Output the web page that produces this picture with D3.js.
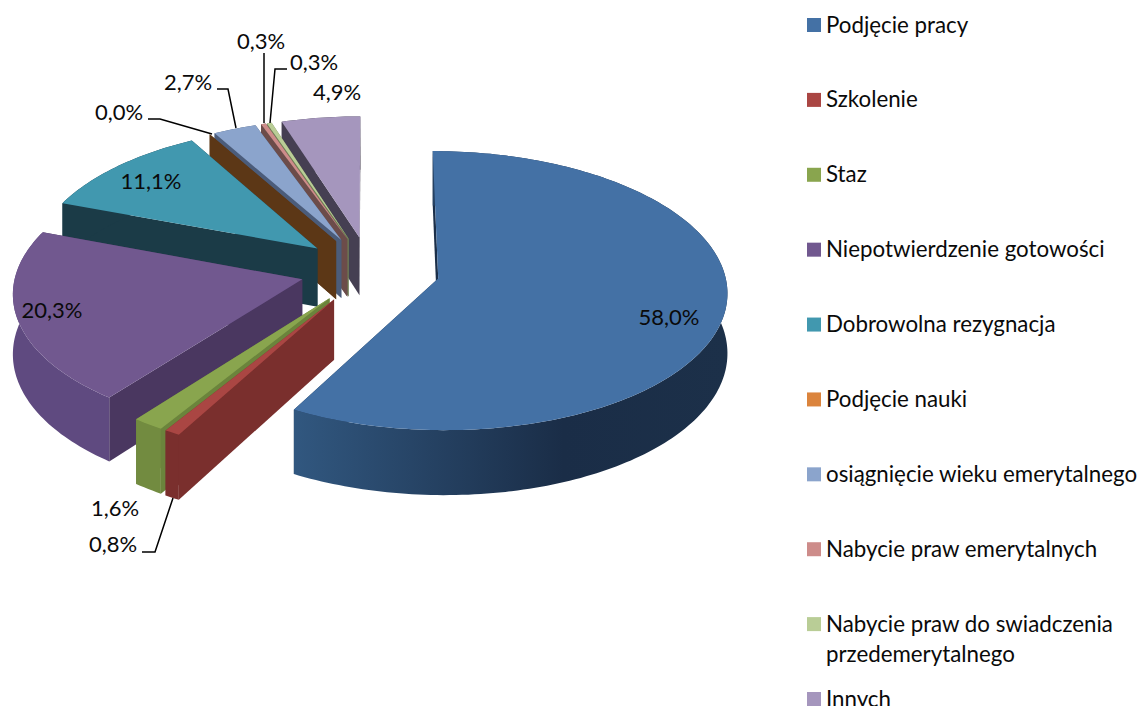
<!DOCTYPE html>
<html lang="pl">
<head>
<meta charset="utf-8">
<title>Wykres kołowy 3D</title>
<script src="https://cdn.jsdelivr.net/npm/d3@7/dist/d3.min.js"></script>
<style>
html,body{margin:0;padding:0;background:#fff;overflow:hidden;}
text{font-family:Lato,"Open Sans",sans-serif;fill:#0a0a0a;}
</style>
</head>
<body>
<script>
// values
var categories = ["Podjęcie pracy","Szkolenie","Staz","Niepotwierdzenie gotowości","Dobrowolna rezygnacja",
	"Podjęcie nauki","osiągnięcie wieku emerytalnego","Nabycie praw emerytalnych",
	"Nabycie praw do swiadczenia przedemerytalnego","Innych"];
var values = [58.0,0.8,1.6,20.3,11.1,0.0,2.7,0.3,0.3,4.9];

// colours per slice
var topColors  = ["#4471a5","#aa4643","#89a54e","#71588f","#4198af","#db843d","#8ba4cc","#cd8c8a","#b9cd96","#a596bd"];
var wallColors = ["#1b2f49","#7a2f2d","#6b843c","#4a3760","#1b3b47","#5c3716","#4b5c7a","#6c4c4a","#6e7f55","#453f52"];
var rimColors  = ["#1b2f49","#7a2f2d","#728b40","#5f4a80","#1b3b47","#5c3716","#4b5c7a","#6c4c4a","#6e7f55","#453f52"];

// back to front
var drawOrder = [9,8,7,6,5,4,3,2,1,0];

// data label positions (centre) and leader lines, same order as values
var labelPos = [[669,316],[113,543],[115,507],[52,309],[151,180],[119,111],[188,81],[261,40],[314,61],[337,91]];
var leaders = [null,
	[[142,552],[155,552],[173,498]],
	null,null,null,
	[[148,119],[160,119],[212,134]],
	[[217,89],[228,89],[236,128]],
	[[264,53],[264,123]],
	[[287,69],[275,69],[270,123]],
	null];

var w = 1140, h = 706;
var explode = 0.245, persp = 0.087, depth = 59;

var xScale = d3.scaleLinear().domain([-1,1]).range([370-286,370+286]);
var yScale = d3.scaleLinear().domain([-1,1]).range([270+137,270-137]);

var svg = d3.select("body").append("svg").attr("width",w).attr("height",h);

var defs = svg.append("defs");
var grad = defs.append("linearGradient").attr("id","rimBlue")
	.attr("gradientUnits","userSpaceOnUse")
	.attr("x1",296).attr("x2",727).attr("y1",0).attr("y2",0);
grad.append("stop").attr("offset","0").attr("stop-color","#31577f");
grad.append("stop").attr("offset","0.62").attr("stop-color","#1a2d47");
grad.append("stop").attr("offset","1").attr("stop-color","#1c3049");

// world (x, y on the disc, z = 0 top, 1 bottom) to screen
function project(x, y, z) {
	var s = 1 / (1 + persp * y);
	return [xScale(x * s), yScale(y * s) + z * depth * s];
}

var line = d3.line();

var arcs = d3.pie().sort(null).value(function(d){ return d; })(values);

function rimPoints(a, z) {
	var mid = (a.startAngle + a.endAngle) / 2;
	var ox = explode * Math.sin(mid), oy = explode * Math.cos(mid);
	var n = Math.max(1, Math.ceil((a.endAngle - a.startAngle) / 0.02));
	return d3.range(n + 1).map(function(i) {
		var t = a.startAngle + (a.endAngle - a.startAngle) * i / n;
		return project(ox + Math.sin(t), oy + Math.cos(t), z);
	});
}
function apex(a, z) {
	var mid = (a.startAngle + a.endAngle) / 2;
	return project(explode * Math.sin(mid), explode * Math.cos(mid), z);
}

drawOrder.forEach(function(i) {
	var a = arcs[i];
	var topRim = rimPoints(a, 0), botRim = rimPoints(a, 1);
	var g = svg.append("g");
	var last = topRim.length - 1;

	// end wall, start wall
	g.append("path").attr("fill",wallColors[i])
		.attr("d",line([apex(a,0),topRim[last],botRim[last],apex(a,1)])+"Z");
	g.append("path").attr("fill",wallColors[i])
		.attr("d",line([apex(a,0),topRim[0],botRim[0],apex(a,1)])+"Z");
	// outer wall
	g.append("path").attr("fill", i === 0 ? "url(#rimBlue)" : rimColors[i])
		.attr("d",line(topRim.concat(botRim.slice().reverse()))+"Z");
	// top
	g.append("path").attr("fill",topColors[i])
		.attr("d",line([apex(a,0)].concat(topRim))+"Z");
});

// leader lines
svg.selectAll("path.leader")
	.data(leaders.filter(function(d){ return d; }))
	.enter().append("path")
	.attr("class","leader")
	.attr("fill","none").attr("stroke","#000").attr("stroke-width",1.5)
	.attr("d",function(d){ return line(d); });

// data labels
svg.selectAll("text.val")
	.data(values)
	.enter().append("text")
	.attr("class","val")
	.attr("text-anchor","middle")
	.attr("dominant-baseline","central")
	.attr("font-size",22)
	.attr("x",function(d,i){ return labelPos[i][0]; })
	.attr("y",function(d,i){ return labelPos[i][1]; })
	.text(function(d){ return d.toFixed(1).replace(".",",") + "%"; });

// legend
var legendY = d3.scalePoint().domain(categories).range([25,699]);
var legend = svg.selectAll("g.leg").data(categories).enter().append("g").attr("class","leg")
	.attr("transform",function(d){ return "translate(807," + legendY(d) + ")"; });
legend.append("rect").attr("x",0).attr("y",-7).attr("width",14).attr("height",14)
	.attr("fill",function(d,i){ return topColors[i]; });
legend.append("text")
	.attr("x",19).attr("y",-1).attr("font-size",22.3).attr("dominant-baseline","central")
	.each(function(d) {
		var t = d3.select(this);
		if (d.indexOf("przedemerytalnego") > 0) {
			t.append("tspan").attr("x",19).text("Nabycie praw do swiadczenia");
			t.append("tspan").attr("x",19).attr("dy",30).text("przedemerytalnego");
		} else {
			t.text(d);
		}
	});
</script>
</body>
</html>
